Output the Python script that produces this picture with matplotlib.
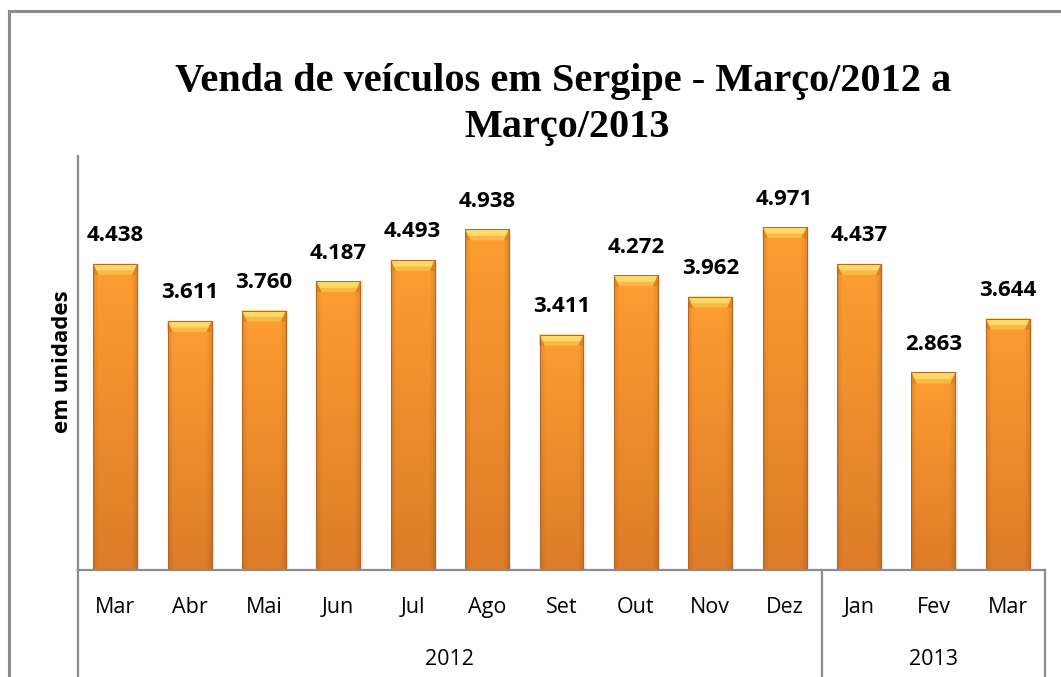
import matplotlib
matplotlib.use("Agg")
import matplotlib.pyplot as plt
import numpy as np
from matplotlib.colors import to_rgb
from matplotlib.patches import Polygon

months = ["Mar", "Abr", "Mai", "Jun", "Jul", "Ago", "Set", "Out", "Nov", "Dez", "Jan", "Fev", "Mar"]
years = ["2012", "2013"]
year_counts = [10, 3]
values = [4438, 3611, 3760, 4187, 4493, 4938, 3411, 4272, 3962, 4971, 4437, 2863, 3644]
value_labels = ["4.438", "3.611", "3.760", "4.187", "4.493", "4.938", "3.411",
                "4.272", "3.962", "4.971", "4.437", "2.863", "3.644"]
title_lines = ["Venda de veículos em Sergipe - Março/2012 a", "Março/2013"]
ylabel = "em unidades"

W, H = 1061, 677
fig = plt.figure(figsize=(W / 100, H / 100), dpi=100)
fig.patch.set_facecolor("white")

# outer frame (left + top visible)
fig.add_artist(plt.Line2D([8.5 / W, 8.5 / W], [0, 1 - 11 / H], color="#8c8c8c", lw=2.2, transform=fig.transFigure))
fig.add_artist(plt.Line2D([8.5 / W, 1], [1 - 11 / H, 1 - 11 / H], color="#8c8c8c", lw=2.2, transform=fig.transFigure))

left, right = 78 / W, 1045 / W
bottom, top = (H - 570) / H, (H - 156) / H
ax = fig.add_axes([left, bottom, right - left, top - bottom])
ax.set_facecolor("none")

x = np.arange(len(values))
bw = 0.59
ax.set_xlim(-0.5, len(values) - 0.5)
ax.set_ylim(0, 6000)

# soft shadow
ax.bar(x + 0.015, values, width=bw + 0.03, color="#bdbdbd", alpha=0.35, linewidth=0, zorder=1.5)
bars = ax.bar(x, values, width=bw, color="#F39530", edgecolor="#B8641E", linewidth=0.7, zorder=2)

# gradient image: vertical light-top/dark-bottom, edges slightly darker
top_c = np.array(to_rgb("#FE9D31"))
bot_c = np.array(to_rgb("#DE7C29"))
ny, nx = 128, 64
tv = np.linspace(0, 1, ny).reshape(-1, 1, 1)  # 0 = top row
base = top_c * (1 - tv) + bot_c * tv
hx = np.linspace(-1, 1, nx).reshape(1, -1, 1)
edge = 1 - 0.10 * np.clip((np.abs(hx) - 0.75) / 0.25, 0, 1)
img = np.clip(base * edge, 0, 1)

px_per_unit = (570 - 156) / 6000.0
bevel_units = 11 / px_per_unit
for i, (xi, v, b) in enumerate(zip(x, values, bars)):
    im = ax.imshow(img, aspect="auto", extent=(xi - bw / 2, xi + bw / 2, 0, v), zorder=2.5,
                   interpolation="bilinear")
    im.set_clip_path(b)
    inset = 0.07
    xl, xr = xi - bw / 2, xi + bw / 2
    # side bevels (darker)
    ax.add_patch(Polygon([(xl, v), (xl + inset, v - bevel_units), (xl, v - bevel_units)],
                         facecolor="#E2801F", edgecolor="none", zorder=2.7))
    ax.add_patch(Polygon([(xr, v), (xr - inset, v - bevel_units), (xr, v - bevel_units)],
                         facecolor="#E2801F", edgecolor="none", zorder=2.7))
    # top bevel (yellow gradient)
    ax.add_patch(Polygon([(xl, v), (xr, v), (xr - inset, v - bevel_units), (xl + inset, v - bevel_units)],
                         facecolor="#FCB845", edgecolor="none", zorder=2.7))
    ax.add_patch(Polygon([(xl + 0.01, v), (xr - 0.01, v), (xr - inset * 0.6, v - bevel_units * 0.6),
                          (xl + inset * 0.6, v - bevel_units * 0.6)],
                         facecolor="#FED868", edgecolor="none", zorder=2.8))
    ax.bar(xi, v, width=bw, facecolor="none", edgecolor="#B8641E", linewidth=0.7, zorder=3)
    ax.text(xi, v + 28 / px_per_unit, value_labels[i], ha="center", va="center",
            fontsize=16, fontweight="bold", family="Open Sans", color="black", zorder=4)

for s in ["top", "right"]:
    ax.spines[s].set_visible(False)
ax.spines["left"].set_color("#8c8c8c")
ax.spines["bottom"].set_color("#8c8c8c")
ax.spines["left"].set_linewidth(1.6)
ax.spines["bottom"].set_linewidth(1.6)
ax.spines["bottom"].set_zorder(5)
ax.set_yticks([])
ax.set_xticks([])

trans = ax.get_xaxis_transform()
span = 570 - 156
for xi, m in zip(x, months):
    ax.text(xi, -(613 - 570) / span, m, transform=trans, ha="center", va="baseline",
            fontsize=15.5, family="Open Sans", color="black", clip_on=False)

start = 0
ybot = -(H - 570) / span
ax.plot([-0.5, -0.5], [0, ybot], transform=trans, color="#8c8c8c", lw=1.6, clip_on=False)
for yr, n in zip(years, year_counts):
    end = start + n
    ax.text((start + end - 1) / 2, -(665 - 570) / span, yr, transform=trans,
            ha="center", va="baseline", fontsize=15.5, family="Open Sans", color="black", clip_on=False)
    ax.plot([end - 0.5, end - 0.5], [0, ybot], transform=trans, color="#8c8c8c", lw=1.6, clip_on=False)
    start = end

fig.text(63 / W, 1 - 362 / H, ylabel, rotation=90, ha="center", va="center",
         fontsize=16, fontweight="bold", family="Open Sans")

fig.text(563 / W, 1 - 82 / H, title_lines[0], ha="center", va="center", fontsize=29,
         fontweight="bold", family="Liberation Serif")
fig.text(567 / W, 1 - 127 / H, title_lines[1], ha="center", va="center", fontsize=29,
         fontweight="bold", family="Liberation Serif")

fig.savefig("out.png", dpi=100, facecolor="white")
